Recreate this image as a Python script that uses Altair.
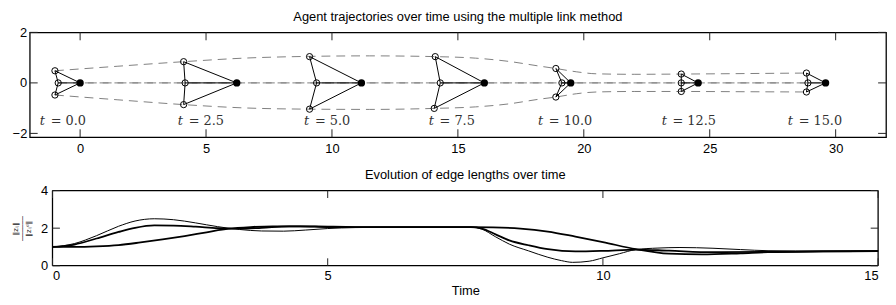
import altair as alt
import pandas as pd

# ---------------- top panel: formation snapshots ----------------
snap_t = [0.0, 2.5, 5.0, 7.5, 10.0, 12.5, 15.0]
leader_x = [0.0, 6.22, 11.17, 16.05, 19.48, 24.54, 29.6]
leader_y = [0, 0, 0, 0, 0, 0, 0]
top_x = [-1.0, 4.11, 9.11, 14.1, 18.89, 23.87, 28.84]
top_y = [0.48, 0.84, 1.04, 1.04, 0.57, 0.35, 0.39]
mid_x = [-0.87, 4.17, 9.39, 14.3, 19.13, 23.87, 28.9]
mid_y = [0, 0, 0, 0, 0, 0, 0]
bot_x = [-1.0, 4.11, 9.11, 14.06, 18.89, 23.87, 28.84]
bot_y = [-0.48, -0.86, -1.04, -1.01, -0.56, -0.34, -0.36]
label_x = [-1.6, 3.88, 8.89, 13.84, 18.18, 23.09, 28.1]
label_y = [-1.68] * 7

# trajectories (dashed)
traj_top_x = [-1.0, 1.5, 4.11, 6.5, 9.11, 11.5, 14.1, 15.7, 16.95, 18.27, 18.89, 19.7, 20.5, 22.0, 23.87, 26.5, 28.84]
traj_top_y = [0.48, 0.66, 0.84, 0.98, 1.05, 1.07, 1.04, 0.98, 0.86, 0.66, 0.57, 0.44, 0.36, 0.34, 0.35, 0.37, 0.39]
traj_bot_x = [-1.0, 1.5, 4.11, 6.5, 9.11, 11.5, 14.06, 15.7, 16.95, 18.27, 18.89, 19.7, 20.5, 22.0, 23.87, 26.5, 28.84]
traj_bot_y = [-0.48, -0.67, -0.86, -0.99, -1.04, -1.05, -1.01, -0.95, -0.84, -0.64, -0.56, -0.43, -0.36, -0.34, -0.34, -0.35, -0.36]
traj_mid_x = [-0.87, 28.9]
traj_mid_y = [0.0, 0.0]
traj_lead_x = [0.0, 29.6]
traj_lead_y = [0.0, 0.0]

xt_top = [0, 5, 10, 15, 20, 25, 30]
yt_top = [-2, 0, 2]
x_dom_top = [-2, 32]
y_dom_top = [-2.15, 2]
title_top = "Agent trajectories over time using the multiple link method"

# ---------------- bottom panel: edge length ratios ----------------
tA = [0, 0.4, 0.8, 1.2, 1.5, 1.85, 2.2, 2.6, 3.0, 3.4, 3.8, 4.2, 4.6, 5.0, 5.5, 6.5, 7.6, 7.8, 8.05, 8.3, 8.65, 9.0, 9.25, 9.45, 9.75, 10.0, 10.3, 10.6, 11.0, 11.4, 12.0, 12.5, 13.0, 14.0, 15.0]
vA = [1.0, 1.18, 1.6, 2.1, 2.38, 2.5, 2.45, 2.28, 2.08, 1.93, 1.85, 1.84, 1.9, 1.98, 2.03, 2.05, 2.05, 1.95, 1.54, 1.15, 0.79, 0.45, 0.27, 0.18, 0.24, 0.42, 0.64, 0.86, 0.94, 0.97, 0.93, 0.86, 0.8, 0.78, 0.8]
tB = [0, 0.4, 0.8, 1.2, 1.5, 1.85, 2.2, 2.6, 3.0, 3.4, 3.8, 4.3, 4.8, 5.5, 7.6, 7.8, 8.05, 8.3, 8.65, 9.0, 9.5, 10.0, 10.6, 11.2, 12.0, 13.0, 14.0, 15.0]
vB = [1.0, 1.13, 1.45, 1.8, 2.02, 2.15, 2.14, 2.08, 2.0, 1.97, 2.02, 2.1, 2.09, 2.06, 2.05, 1.98, 1.67, 1.35, 1.09, 0.88, 0.76, 0.79, 0.86, 0.8, 0.72, 0.74, 0.76, 0.78]
tC = [0, 0.4, 0.8, 1.2, 1.6, 2.0, 2.4, 2.8, 3.2, 3.6, 4.0, 4.5, 5.0, 6.0, 7.6, 8.0, 8.5, 9.0, 9.5, 10.0, 10.6, 11.2, 11.8, 12.5, 13.0, 14.0, 15.0]
vC = [1.0, 1.0, 1.03, 1.1, 1.24, 1.4, 1.58, 1.78, 1.97, 2.06, 2.1, 2.1, 2.06, 2.05, 2.05, 2.04, 1.98, 1.82, 1.55, 1.26, 0.88, 0.64, 0.6, 0.66, 0.72, 0.76, 0.78]
xt_bot = [0, 5, 10, 15]
yt_bot = [0, 2, 4]
x_dom_bot = [0, 15]
y_dom_bot = [0, 4]
title_bot = "Evolution of edge lengths over time"
ylab_bot = ["\u2016z\u1d62\u2c7c\u2016", "\u2500\u2500\u2500\u2500\u2500\u2500", "\u2016z\u1d62\u2c7c\u1d48\u2016"]

# layout (pixels)
TOP_W, TOP_H = 866, 106
BOT_SHIFT = 23            # bottom plot starts further right than the top one
BOT_W, BOT_H = 858, 76    # group width; plot spans BOT_SHIFT..BOT_W

# ---------------- build tables ----------------
traj_rows = []
for name, xs, ys in [("top", traj_top_x, traj_top_y), ("bot", traj_bot_x, traj_bot_y),
                     ("mid", traj_mid_x, traj_mid_y)]:
    for i, (a, b) in enumerate(zip(xs, ys)):
        traj_rows.append({"agent": name, "i": i, "x": a, "y": b})
traj = pd.DataFrame(traj_rows)
traj_lead = pd.DataFrame({"x": traj_lead_x, "y": traj_lead_y, "i": [0, 1]})

edge_rows = []
for k in range(len(snap_t)):
    L = (leader_x[k], leader_y[k]); T = (top_x[k], top_y[k])
    M = (mid_x[k], mid_y[k]); B = (bot_x[k], bot_y[k])
    for p, q in [(L, T), (L, M), (L, B), (T, M), (M, B)]:
        edge_rows.append({"x": p[0], "y": p[1], "x2": q[0], "y2": q[1]})
edges = pd.DataFrame(edge_rows)

foll = pd.DataFrame({"x": top_x + mid_x + bot_x, "y": top_y + mid_y + bot_y})
lead = pd.DataFrame({"x": leader_x, "y": leader_y})
labels = pd.DataFrame({"x": label_x, "y": label_y,
                       "eq": ["= %.1f" % t for t in snap_t]})

X = alt.X("x:Q", scale=alt.Scale(domain=x_dom_top, nice=False, zero=False),
          axis=alt.Axis(values=xt_top, format="d", title=None, labelPadding=5))
Y = alt.Y("y:Q", scale=alt.Scale(domain=y_dom_top, nice=False, zero=False),
          axis=alt.Axis(values=yt_top, format="d", title=None, labelPadding=3))

TICKC = "#222"


def x_ticks(vals, XE, field, H, L):
    d = alt.Chart(pd.DataFrame({field: vals})).mark_rule(color=TICKC, strokeWidth=1)
    return [d.encode(x=XE, y=alt.value(0), y2=alt.value(L)),
            d.encode(x=XE, y=alt.value(H - L), y2=alt.value(H))]


def y_ticks(vals, YE, field, x0, x1, L):
    d = alt.Chart(pd.DataFrame({field: vals})).mark_rule(color=TICKC, strokeWidth=1)
    return [d.encode(y=YE, x=alt.value(x0), x2=alt.value(x0 + L)),
            d.encode(y=YE, x=alt.value(x1 - L), x2=alt.value(x1))]


def title_text(txt, cx, dy):
    return alt.Chart(pd.DataFrame({"title": [txt]})).mark_text(
        font="Liberation Sans", fontSize=13, color="black", align="center",
        baseline="alphabetic").encode(text="title:N", x=alt.value(cx), y=alt.value(dy))


DASHC = "#808080"
traj_layer = alt.Chart(traj).mark_line(color=DASHC, strokeWidth=1, strokeDash=[9, 6],
                                       interpolate="monotone").encode(
    x=X, y=Y, detail="agent:N", order="i:Q")
lead_traj_layer = alt.Chart(traj_lead).mark_line(color=DASHC, strokeWidth=1, strokeDash=[9, 6],
                                                 strokeDashOffset=10.3).encode(
    x=X, y=Y, order="i:Q")
edge_layer = alt.Chart(edges).mark_rule(color="black", strokeWidth=1).encode(
    x=X, y=Y, x2="x2:Q", y2="y2:Q")
foll_layer = alt.Chart(foll).mark_point(shape="circle", filled=False, color="black",
                                        size=40, strokeWidth=1, opacity=1).encode(x=X, y=Y)
lead_layer = alt.Chart(lead).mark_circle(color="black", size=55, opacity=1).encode(x=X, y=Y)
t_layer = alt.Chart(labels).mark_text(font="DejaVu Serif", fontStyle="italic", fontSize=13,
                                      align="left", baseline="alphabetic", color="#333").encode(
    x=X, y=Y, text=alt.value("t"))
eq_layer = alt.Chart(labels).mark_text(font="DejaVu Serif", fontSize=13, align="left",
                                       baseline="alphabetic", color="#333", dx=11).encode(
    x=X, y=Y, text="eq:N")

top = alt.layer(traj_layer, lead_traj_layer, edge_layer, foll_layer, lead_layer, t_layer, eq_layer,
                *x_ticks(xt_top, X, "x", TOP_H, 8),
                *y_ticks(yt_top, Y, "y", 0, TOP_W, 8),
                title_text(title_top, TOP_W / 2, -12)).properties(
    width=TOP_W, height=TOP_H)

# bottom
rows = []
for name, ts, vs, w in [("A", tA, vA, 1.0), ("B", tB, vB, 1.8), ("C", tC, vC, 1.8)]:
    for a, b in zip(ts, vs):
        rows.append({"t": a, "v": b, "s": name, "w": w})
lines = pd.DataFrame(rows)

Xb = alt.X("t:Q", scale=alt.Scale(domain=x_dom_bot, range=[BOT_SHIFT, BOT_W], nice=False, zero=False),
           axis=alt.Axis(values=xt_bot, format="d", title="Time", titlePadding=2, labelPadding=4))
Yb = alt.Y("v:Q", scale=alt.Scale(domain=y_dom_bot, nice=False, zero=False),
           axis=alt.Axis(values=yt_bot, format="d", labelPadding=5, offset=-BOT_SHIFT,
                         title=ylab_bot,
                         titleFont="DejaVu Sans", titleFontSize=7, titleLineHeight=6.5,
                         titlePadding=9, titleColor="#222"))
line_layer = alt.Chart(lines).mark_line(color="black", interpolate="monotone").encode(
    x=Xb, y=Yb, detail="s:N", strokeWidth=alt.StrokeWidth("w:Q", scale=None))

frame = pd.DataFrame({
    "t": [x_dom_bot[0], x_dom_bot[0], x_dom_bot[0], x_dom_bot[1]],
    "t2": [x_dom_bot[1], x_dom_bot[1], x_dom_bot[0], x_dom_bot[1]],
    "v": [y_dom_bot[0], y_dom_bot[1], y_dom_bot[0], y_dom_bot[0]],
    "v2": [y_dom_bot[0], y_dom_bot[1], y_dom_bot[1], y_dom_bot[1]],
})
frame_layer = alt.Chart(frame).mark_rule(color="black", strokeWidth=1.3).encode(
    x=Xb, y=Yb, x2="t2:Q", y2="v2:Q")

bottom = alt.layer(line_layer, frame_layer,
                   *x_ticks(xt_bot, Xb, "t", BOT_H, 7.5),
                   *y_ticks(yt_bot, Yb, "v", BOT_SHIFT, BOT_W, 7.5),
                   title_text(title_bot, (BOT_SHIFT + BOT_W) / 2, -12)).properties(
    width=BOT_W, height=BOT_H,
    view=alt.ViewBackground(stroke="transparent"))

chart = alt.vconcat(top, bottom, spacing=12).properties(
    padding={"left": 3, "top": 0, "right": 0, "bottom": 0}, background="white"
).configure_view(stroke="black", strokeWidth=1.3).configure_axis(
    grid=False, ticks=False, domain=False, labelFont="Liberation Sans", labelFontSize=13,
    labelColor="black", titleFont="Liberation Sans", titleFontSize=13,
    titleFontWeight="normal", titleColor="black")

chart.save("out.html", embed_options={"renderer": "svg", "actions": False})
